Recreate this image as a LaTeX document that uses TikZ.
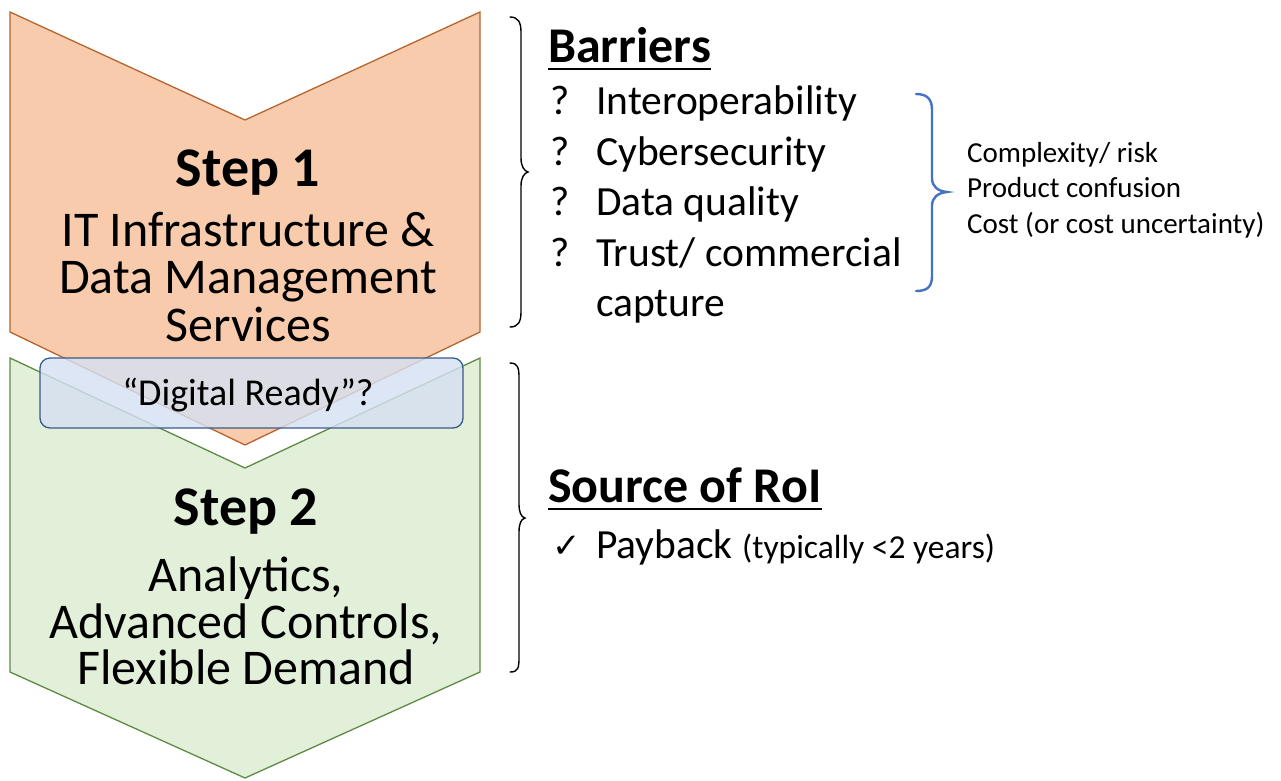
\documentclass[tikz,border=0pt]{standalone}
\usepackage{fontspec}
\setmainfont{Carlito}
\newfontfamily\symfont{DejaVu Sans}
\definecolor{orfill}{HTML}{F8CBAD}
\definecolor{ordraw}{HTML}{B5652E}
\definecolor{grfill}{HTML}{E2F0D9}
\definecolor{grdraw}{HTML}{5E8A45}
\definecolor{bxfill}{HTML}{D6E0F2}
\definecolor{bxdraw}{HTML}{3B5A8C}
\definecolor{brblue}{HTML}{4472C4}
\begin{document}
\begin{tikzpicture}[x=1pt,y=-1pt,
  chev/.style={line width=1.3pt, line join=miter},
  big/.style={anchor=base, inner sep=0pt, font=\fontsize{50}{50}\selectfont},
  stephead/.style={anchor=base, inner sep=0pt, font=\bfseries\fontsize{56}{56}\selectfont},
  head/.style={anchor=base west, inner sep=0pt, font=\bfseries\fontsize{50}{50}\selectfont},
  item/.style={anchor=base west, inner sep=0pt, font=\fontsize{41.5}{41.5}\selectfont},
  small/.style={anchor=base west, inner sep=0pt, font=\fontsize{29}{29}\selectfont},
  brace/.style={line width=1.4pt, line cap=round},
  uline/.style={line width=2.6pt}
]
\useasboundingbox (0,0) rectangle (1281,780);

% chevrons
\draw[chev, fill=orfill, draw=ordraw] (10,12) -- (245,120) -- (480,12) -- (480,332) -- (245,445) -- (10,332) -- cycle;
\draw[chev, fill=grfill, draw=grdraw] (10,358) -- (245,468) -- (480,358) -- (480,672) -- (245,778) -- (10,672) -- cycle;

% step 1 texts
\node[stephead] (s1) at (248,186) {Step 1};
\node[big] (s1a) at (248,246) {IT Infrastructure \&};
\node[big] (s1b) at (248,293) {Data Management};
\node[big] (s1c) at (248,341) {Services};

% digital ready box
\draw[line width=1.3pt, draw=bxdraw, fill=bxfill, fill opacity=0.82, rounded corners=10pt] (40,358) rectangle (463,428);
\node[anchor=base, inner sep=0pt, font=\fontsize{38}{38}\selectfont] (dr) at (248,405) {“Digital Ready”?};

% step 2 texts
\node[stephead] (s2) at (246,525) {Step 2};
\node[big] (s2a) at (246,591) {Analytics,};
\node[big] (s2b) at (246,638) {Advanced Controls,};
\node[big] (s2c) at (246,684) {Flexible Demand};

% braces
\draw[brace] (510,17) .. controls (518,17) and (521,22) .. (521,32) -- (521,158) .. controls (521,166) and (524,171) .. (528,172) .. controls (524,173) and (521,178) .. (521,186) -- (521,312) .. controls (521,322) and (518,327) .. (510,327);
\draw[brace] (510,363) .. controls (518,363) and (519,368) .. (519,378) -- (519,504) .. controls (519,512) and (521,517) .. (525,518) .. controls (521,519) and (519,524) .. (519,532) -- (519,658) .. controls (519,668) and (518,672) .. (510,672);
\draw[brace, line width=2.4pt, draw=brblue] (916,94) .. controls (927,94) and (932,99) .. (932,110) -- (932,178) .. controls (932,187) and (938,191) .. (947,192) .. controls (938,193) and (932,197) .. (932,206) -- (932,276) .. controls (932,287) and (927,291) .. (916,291);

% barriers
\node[head] (barr) at (548,62) {Barriers};
\draw[uline] ([yshift=-7pt]barr.base west) -- ([yshift=-7pt]barr.base east);
\node[item] (q1) at (550,114) {?};
\node[item] (b1) at (596,114) {Interoperability};
\node[item] (q2) at (550,165) {?};
\node[item] (b2) at (596,165) {Cybersecurity};
\node[item] (q3) at (550,215) {?};
\node[item] (b3) at (596,215) {Data quality};
\node[item] (q4) at (550,266) {?};
\node[item] (b4) at (596,266) {Trust/ commercial};
\node[item] (b5) at (596,316) {capture};

% blue brace text
\node[small] (c1) at (967,162) {Complexity/ risk};
\node[small] (c2) at (967,197) {Product confusion};
\node[small] (c3) at (967,233) {Cost (or cost uncertainty)};

% source of RoI
\node[head] (roi) at (548,502) {Source of RoI};
\draw[uline] ([yshift=-7pt]roi.base west) -- ([yshift=-7pt]roi.base east);
\node[anchor=base west, inner sep=0pt, font=\symfont\bfseries\fontsize{34}{34}\selectfont] (chk) at (552,557) {✓};
\node[item] (pay) at (596,558) {Payback {\fontsize{33.5}{33.5}\selectfont(typically <2 years)}};
\end{tikzpicture}
\end{document}
